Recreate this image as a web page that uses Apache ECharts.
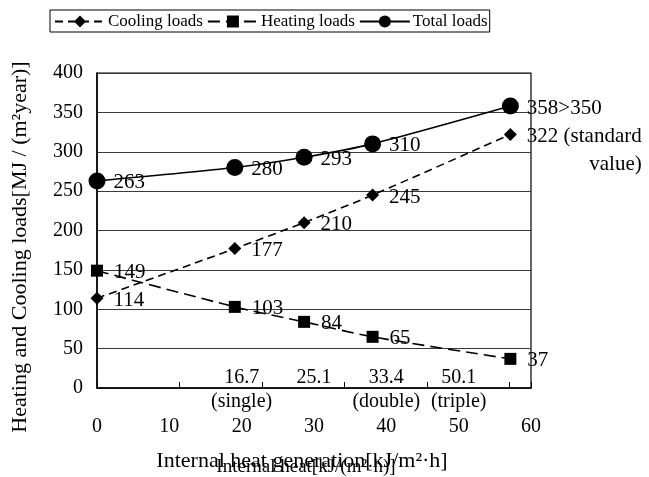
<!DOCTYPE html>
<html>
<head>
<meta charset="utf-8">
<script src="https://cdn.jsdelivr.net/npm/echarts@6/dist/echarts.min.js"></script>
<style>
  html, body { margin: 0; padding: 0; background: #fff; }
  #chart { width: 649px; height: 477px; }
</style>
</head>
<body>
<div id="chart"></div>
<script>
// Internal heat generation of each design case [kJ/(m2·h)]
const heatGen = [0, 16.7, 25.1, 33.4, 50.1];
// Annual loads [MJ/(m2·year)]
const coolingLoads = [114, 177, 210, 245, 322];
const heatingLoads = [149, 103, 84, 65, 37];
const totalLoads = [263, 280, 293, 310, 358];

// Lower scale tick labels
const scaleTicks = [0, 10, 20, 30, 40, 50, 60];
// Case labels shown along the axis, keyed by slot on the lower scale
const caseSlots = [20, 30, 40, 50];
const caseValues = ['16.7', '25.1', '33.4', '50.1'];
const glazingSlots = [20, 40, 50];
const glazingNames = ['(single)', '(double)', '(triple)'];

const FONT = '"Liberation Serif", "Times New Roman", serif';
const chart = echarts.init(document.getElementById('chart'));

const pairs = (ys) => heatGen.map((x, i) => [x, ys[i]]);

const totalData = pairs(totalLoads).map((p, i) => {
  if (i === totalLoads.length - 1) {
    return { value: p, label: { formatter: totalLoads[i] + '>350' } };
  }
  return p;
});
const coolingData = pairs(coolingLoads).map((p, i) => {
  if (i === coolingLoads.length - 1) {
    return {
      value: p,
      label: {
        formatter: '{a|' + coolingLoads[i] + ' (standard}\n{b|value)}',
        offset: [0, 16],
        rich: {
          a: { fontFamily: FONT, fontSize: 21, color: '#000', lineHeight: 28 },
          b: { fontFamily: FONT, fontSize: 21, color: '#000', lineHeight: 28, align: 'right' }
        }
      }
    };
  }
  return p;
});

const pointLabel = (dist) => ({
  show: true,
  position: 'right',
  distance: dist,
  offset: [0, 2],
  color: '#000',
  fontFamily: FONT,
  fontSize: 21
});

const lookup = (slots, names) => (v) => {
  const k = slots.indexOf(Math.round(v));
  return k >= 0 ? names[k] : '';
};

chart.setOption({
  animation: false,
  backgroundColor: '#fff',
  textStyle: { fontFamily: FONT },
  legend: {
    left: 50,
    top: 10,
    padding: [3, 2, 2, 4],
    itemGap: 4,
    itemWidth: 50,
    itemHeight: 15,
    borderColor: '#000',
    borderWidth: 1,
    textStyle: { fontFamily: FONT, fontSize: 17, color: '#000', padding: [0, 0, 0, -2] },
    data: ['Cooling loads', 'Heating loads', 'Total loads']
  },
  grid: { left: 97, right: 118, top: 73, bottom: 89, containLabel: false,
          outerBoundsMode: 'none',
          show: true, borderColor: '#000', borderWidth: 1.2 },
  xAxis: [
    {
      // data scale
      type: 'value', min: 0, max: 52.6, interval: 10, position: 'bottom',
      axisLine: { show: true, onZero: false, lineStyle: { color: '#000', width: 1.5 } },
      axisTick: { show: true, inside: true, length: 6, lineStyle: { color: '#000' } },
      axisLabel: { show: false },
      splitLine: { show: false }
    },
    {
      // lower scale with the main axis title
      type: 'value', min: scaleTicks[0], max: scaleTicks[scaleTicks.length - 1], interval: 10,
      position: 'bottom',
      axisLine: { show: false, onZero: false }, axisTick: { show: false },
      splitLine: { show: false },
      axisLabel: { margin: 29, color: '#000', fontFamily: FONT, fontSize: 20 },
      name: 'Internal heat generation[kJ/m²·h]',
      nameLocation: 'middle', nameGap: 62,
      nameTextStyle: { color: '#000', fontFamily: FONT, fontSize: 22, padding: [0, 24, 0, 0] }
    },
    {
      // case values just above the axis line, plus the secondary title
      type: 'value', min: 0, max: 60, interval: 10, position: 'bottom',
      axisLine: { show: false, onZero: false }, axisTick: { show: false },
      splitLine: { show: false },
      axisLabel: { inside: true, margin: 0, color: '#000', fontFamily: FONT, fontSize: 20,
                   formatter: lookup(caseSlots, caseValues) },
      name: 'Internal heat[kJ/(m²·h)]',
      nameLocation: 'middle', nameGap: 70,
      nameTextStyle: { color: '#000', fontFamily: FONT, fontSize: 19, padding: [0, 16, 0, 0] }
    },
    {
      // glazing type under the axis line
      type: 'value', min: 0, max: 60, interval: 10, position: 'bottom',
      axisLine: { show: false, onZero: false }, axisTick: { show: false },
      splitLine: { show: false },
      axisLabel: { margin: 4, color: '#000', fontFamily: FONT, fontSize: 20,
                   formatter: lookup(glazingSlots, glazingNames) }
    }
  ],
  yAxis: {
    type: 'value', min: 0, max: 400, interval: 50,
    axisLine: { show: true, lineStyle: { color: '#000', width: 1.5 } },
    axisTick: { show: false },
    axisLabel: { margin: 14, color: '#000', fontFamily: FONT, fontSize: 20 },
    splitLine: { show: true, lineStyle: { color: '#3a3a3a', width: 1 } },
    name: 'Heating and Cooling loads[MJ / (m²year)]',
    nameLocation: 'middle', nameGap: 66,
    nameTextStyle: { color: '#000', fontFamily: FONT, fontSize: 22, padding: [0, 33, 0, 0] }
  },
  series: [
    {
      name: 'Cooling loads', type: 'line', xAxisIndex: 0, data: coolingData,
      smooth: 0.25, symbol: 'diamond', symbolSize: 13,
      itemStyle: { color: '#000' },
      lineStyle: { color: '#000', width: 1.6, type: [8, 5] },
      label: pointLabel(10), z: 3
    },
    {
      name: 'Heating loads', type: 'line', xAxisIndex: 0, data: pairs(heatingLoads),
      smooth: 0.25, symbol: 'rect', symbolSize: 12,
      itemStyle: { color: '#000' },
      lineStyle: { color: '#000', width: 1.6, type: [12, 6] },
      label: pointLabel(11), z: 3
    },
    {
      name: 'Total loads', type: 'line', xAxisIndex: 0, data: totalData,
      smooth: 0.25, symbol: 'circle', symbolSize: 17,
      itemStyle: { color: '#000' },
      lineStyle: { color: '#000', width: 1.6 },
      label: pointLabel(8), z: 3
    }
  ]
});
</script>
</body>
</html>
